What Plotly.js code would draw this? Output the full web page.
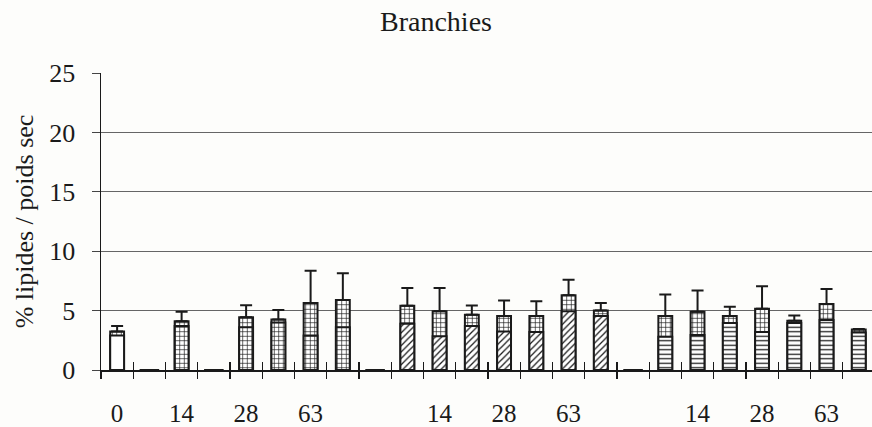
<!DOCTYPE html>
<html>
<head>
<meta charset="utf-8">
<script src="https://cdn.plot.ly/plotly-3.0.1.min.js"></script>
<style>
  html, body { margin: 0; padding: 0; background: #fdfdfb; }
  #chart { width: 872px; height: 427px; }
</style>
</head>
<body>
<div id="chart"></div>
<script>
// Slot positions along the x axis (24 slots, 4 of them empty)
const slots = [1,2,3,4,5,6,7,8,9,10,11,12,13,14,15,16,17,18,19,20,21,22,23,24];
// Tick labels under the slots (days)
const tickLabels = ['0','','14','','28','','63','','','','14','','28','','63','','','','14','','28','','63',''];
// Fill style of each slot's front bar: 'none' = white, '+' grid, '/' diagonal, '-' horizontal
const fillStyle = ['none','','+','','+','+','+','+','','/','/','/','/','/','/','/','','-','-','-','-','-','-','-'];
// Total height (% lipides / poids sec)
const totalVals = [3.25, 0, 4.1, 0, 4.45, 4.25, 5.65, 5.9, 0, 5.4, 4.95, 4.65, 4.55, 4.55, 6.3, 5.0, 0, 4.55, 4.9, 4.55, 5.15, 4.15, 5.55, 3.4];
// Lower part of each bar (front series)
const lowerVals = [2.9, 0, 3.7, 0, 3.6, 4.0, 2.9, 3.6, 0, 3.9, 2.85, 3.7, 3.25, 3.2, 4.95, 4.55, 0, 2.8, 2.95, 3.95, 3.2, 3.95, 4.2, 3.15];
// Upper error (standard deviation)
const errUp = [0.45, 0, 0.8, 0, 1.0, 0.8, 2.7, 2.25, 0, 1.5, 1.95, 0.77, 1.3, 1.23, 1.3, 0.64, 0, 1.8, 1.8, 0.78, 1.9, 0.43, 1.27, 0.06];

const serif = 'Liberation Serif, Times New Roman, serif';
const ink = '#1a1a1a';

const barSlots = slots.filter((s, i) => fillStyle[i] !== '');
const pick = arr => arr.filter((v, i) => fillStyle[i] !== '');

const backTrace = {
  type: 'bar',
  x: barSlots,
  y: pick(totalVals),
  width: 0.43,
  marker: {
    color: 'white',
    line: { color: ink, width: 2 },
    pattern: { shape: '+', fgcolor: ink, bgcolor: 'white', size: 4.5, solidity: 0.28 }
  },
  error_y: {
    type: 'data', symmetric: false, array: pick(errUp), arrayminus: pick(errUp).map(() => 0),
    color: ink, thickness: 2, width: 6
  },
  hoverinfo: 'skip',
  showlegend: false
};

const frontTrace = {
  type: 'bar',
  x: barSlots,
  y: pick(lowerVals),
  width: 0.43,
  marker: {
    color: 'white',
    line: { color: ink, width: 2 },
    pattern: {
      shape: pick(fillStyle).map(s => s === 'none' ? '' : s),
      fgcolor: ink, bgcolor: 'white', size: 4.5, solidity: 0.28
    }
  },
  hoverinfo: 'skip',
  showlegend: false
};

const emptySlots = slots.filter((s, i) => fillStyle[i] === '');
const dashTrace = {
  type: 'scatter',
  mode: 'markers',
  x: emptySlots,
  y: totalVals.filter((v, i) => fillStyle[i] === ''),
  marker: { symbol: 'line-ew', size: 14, line: { color: ink, width: 2 } },
  hoverinfo: 'skip',
  showlegend: false,
  cliponaxis: false
};

const xRange = [0.5, 24.41];
const boundaries = slots.map(s => s - 0.5);
const labelVals = slots.filter((s, i) => tickLabels[i] !== '');
const labelText = tickLabels.filter(t => t !== '');

const layout = {
  width: 872, height: 427,
  paper_bgcolor: '#fdfdfb',
  plot_bgcolor: '#fdfdfb',
  margin: { l: 101, r: 0, t: 73, b: 57 },
  barmode: 'overlay',
  font: { family: serif, color: ink, size: 26 },
  title: {
    text: 'Branchies',
    font: { family: serif, size: 28, color: ink },
    x: 0.5, xref: 'container', xanchor: 'center',
    y: 0.95, yref: 'container', yanchor: 'middle'
  },
  xaxis: {
    range: xRange,
    tickmode: 'array', tickvals: labelVals, ticktext: labelText,
    ticks: '', ticklabelstandoff: 20,
    tickfont: { family: serif, size: 25, color: ink },
    showgrid: false, zeroline: false,
    showline: true, linecolor: ink, linewidth: 1.5,
    fixedrange: true
  },
  xaxis2: {
    overlaying: 'x', anchor: 'y', side: 'bottom',
    range: xRange,
    tickmode: 'array', tickvals: boundaries,
    ticks: 'outside', ticklen: 8, tickwidth: 1.3, tickcolor: ink,
    showticklabels: false, showgrid: false, zeroline: false, showline: false
  },
  xaxis3: {
    overlaying: 'x', anchor: 'y', side: 'bottom',
    range: xRange,
    tickmode: 'array', tickvals: boundaries,
    ticks: 'inside', ticklen: 8, tickwidth: 1.3, tickcolor: ink,
    showticklabels: false, showgrid: false, zeroline: false, showline: false
  },
  yaxis: {
    range: [0, 25], dtick: 5, tick0: 0,
    ticks: 'outside', ticklen: 8, tickwidth: 1, tickcolor: '#444',
    ticklabelstandoff: 11,
    tickfont: { family: serif, size: 26, color: ink },
    showgrid: true, gridcolor: '#666', gridwidth: 1,
    zeroline: false,
    showline: true, linecolor: ink, linewidth: 1.5,
    title: { text: '% lipides / poids sec', font: { family: serif, size: 26, color: ink }, standoff: 8 },
    fixedrange: true
  },
  showlegend: false
};

// transparent traces on the boundary axes so that their crossing ticks are drawn
const ghost2 = { type: 'scatter', mode: 'markers', x: boundaries, y: boundaries.map(() => 0), marker: { size: 1, opacity: 0 }, xaxis: 'x2', yaxis: 'y', showlegend: false, hoverinfo: 'skip' };
const ghost3 = { type: 'scatter', mode: 'markers', x: boundaries, y: boundaries.map(() => 0), marker: { size: 1, opacity: 0 }, xaxis: 'x3', yaxis: 'y', showlegend: false, hoverinfo: 'skip' };

Plotly.newPlot('chart', [backTrace, frontTrace, dashTrace, ghost2, ghost3], layout, { staticPlot: true, displayModeBar: false });
</script>
</body>
</html>
